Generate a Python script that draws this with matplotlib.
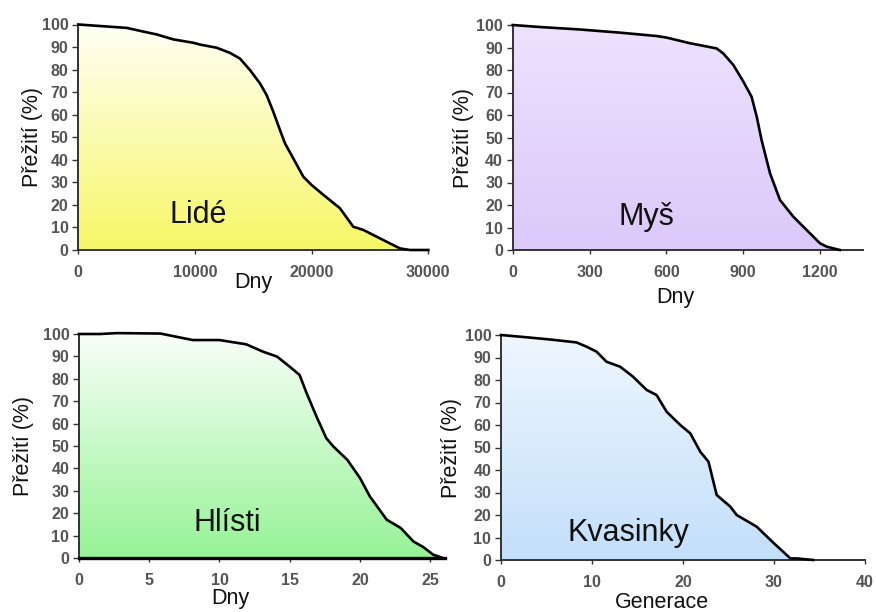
import numpy as np
import matplotlib
matplotlib.use("Agg")
import matplotlib.pyplot as plt
from matplotlib.colors import LinearSegmentedColormap

plt.rcParams['font.family'] = ['Liberation Sans', 'DejaVu Sans']

# ---- data ----
lide_x = [0, 4143, 5714, 6714, 8143, 9857, 10429, 11857, 13000, 13857, 14714, 15571,
          16143, 16714, 17286, 17714, 18429, 19286, 20000, 20857, 22429, 23571, 24429,
          26143, 27571, 28429, 30000]
lide_y = [100, 98.5, 96.7, 95.6, 93.4, 91.9, 91.1, 89.7, 87.4, 84.9, 79.8, 73.9,
          68.7, 61.3, 53.2, 47.3, 40.6, 32.5, 28.8, 25.1, 18.5, 10.3, 8.9,
          4.4, 0.7, 0, 0]

mys_x = [0, 107, 263, 419, 562, 601, 692, 796, 822, 862, 901, 933, 953, 972, 1005,
         1044, 1096, 1148, 1200, 1226, 1278]
mys_y = [100, 99.1, 98, 96.6, 95.1, 94.4, 91.9, 89.6, 87.4, 82.2, 74.8, 68.1, 59.3,
         48.9, 34.1, 22.2, 14.8, 8.9, 3, 1.5, 0]

hlisti_x = [0, 1.5, 2.7, 5.8, 6.9, 8.1, 10.0, 11.9, 13.1, 14.1, 15.0, 15.7, 16.2, 16.9,
            17.6, 18.1, 19.1, 20.0, 20.7, 21.9, 22.9, 23.8, 24.5, 25.2, 25.9]
hlisti_y = [100, 100, 100.4, 100.2, 98.8, 97.3, 97.3, 95.4, 92.1, 89.9, 85.4, 81.7,
            73.6, 63.2, 53.5, 49.8, 43.8, 35.7, 27.5, 17.1, 13.4, 7.4, 4.9, 1.5, 0]

kvas_x = [0, 2.5, 5.4, 8.3, 9.4, 10.5, 11.6, 13.1, 14.5, 16.0, 17.1, 18.2, 19.7, 20.8,
          21.9, 22.8, 23.7, 25.2, 25.9, 28.1, 30.0, 31.8, 32.5, 34.3]
kvas_y = [100, 99.1, 98, 96.7, 94.8, 92.6, 88.1, 85.9, 81.5, 75.6, 73.3, 65.9, 60,
          56.3, 48.1, 43.7, 28.9, 23.7, 20, 14.8, 7.4, 0.7, 0.7, 0]

names = ["Lidé", "Myš", "Hlísti", "Kvasinky"]
xlabels = ["Dny", "Dny", "Dny", "Generace"]
ylabel = "Přežití (%)"
xticks = [[0, 10000, 20000, 30000], [0, 300, 600, 900, 1200],
          [0, 5, 10, 15, 20, 25], [0, 10, 20, 30, 40]]
yticks = list(range(0, 101, 10))

# ---- layout / style ----
positions = [
    [78.3, 24.5, 428.3, 250],
    [512.7, 25, 862.7, 250],
    [79, 334, 445, 558],
    [501, 335, 865, 560],
]
xlims = [(0, 30000), (0, 1367), (0, 26.05), (0, 40)]
grad = [("#fffff6", "#f7f766"), ("#ede2ff", "#dcc8f9"),
        ("#f8fff8", "#96f396"), ("#eff7ff", "#c3dffa")]
ylab_x = [-0.132, -0.142, -0.153, -0.135]
xlab_pos = [(0.499, -0.146), (0.464, -0.209), (0.413, -0.179), (0.442, -0.191)]
name_pos = [(0.342, 15.5), (0.383, 14.8), (0.406, 15.5), (0.35, 11.9)]

W, H = 876, 612
fig = plt.figure(figsize=(W / 100, H / 100), dpi=100)

series = [(lide_x, lide_y), (mys_x, mys_y), (hlisti_x, hlisti_y), (kvas_x, kvas_y)]

for i, ((xs, ys), (l, t, r, b)) in enumerate(zip(series, positions)):
    ax = fig.add_axes([l / W, 1 - b / H, (r - l) / W, (b - t) / H])
    ax.set_xlim(*xlims[i])
    ax.set_ylim(0, 100)
    ax.patch.set_alpha(0)
    for s in ["top", "right"]:
        ax.spines[s].set_visible(False)
    for s in ["left", "bottom"]:
        ax.spines[s].set_color("#333333")
        ax.spines[s].set_linewidth(1.4)
    if i == 2:
        ax.spines["bottom"].set_color("black")
        ax.spines["bottom"].set_linewidth(2.4)

    # gradient fill under curve
    cmap = LinearSegmentedColormap.from_list("g%d" % i, [grad[i][1], grad[i][0]])
    gy = np.linspace(0, 1, 256).reshape(-1, 1)
    poly = ax.fill_between(xs, ys, 0, facecolor="none", edgecolor="none")
    im = ax.imshow(gy, cmap=cmap, aspect="auto", origin="lower",
                   extent=[xlims[i][0], xlims[i][1], 0, 100], zorder=1)
    clip = poly.get_paths()[0]
    im.set_clip_path(clip, transform=ax.transData)
    ax.plot(xs, ys, color="black", lw=1.9, zorder=3, solid_joinstyle="round",
            clip_on=False)

    ax.set_xticks(xticks[i])
    ax.set_yticks(yticks)
    ax.tick_params(axis="y", direction="out", length=4, width=1, color="#333333",
                   pad=3, labelsize=11.5, labelcolor="#555555")
    ax.tick_params(axis="x", direction="out", length=3, width=1, color="#333333",
                   pad=8, labelsize=11.5, labelcolor="#555555")
    for lab in ax.get_xticklabels() + ax.get_yticklabels():
        lab.set_fontweight("bold")

    ax.set_ylabel(ylabel, fontsize=15.5, color="#111111", va="center")
    ax.yaxis.set_label_coords(ylab_x[i], 0.5)
    ax.set_xlabel(xlabels[i], fontsize=15.5, color="#111111")
    ax.xaxis.set_label_coords(*xlab_pos[i])
    ax.xaxis.label.set_va("center")

    ax.text(name_pos[i][0], name_pos[i][1], names[i], transform=ax.get_yaxis_transform(),
            fontsize=22, ha="center", va="center", color="#111111", zorder=4)

fig.savefig("out.png", dpi=100)
